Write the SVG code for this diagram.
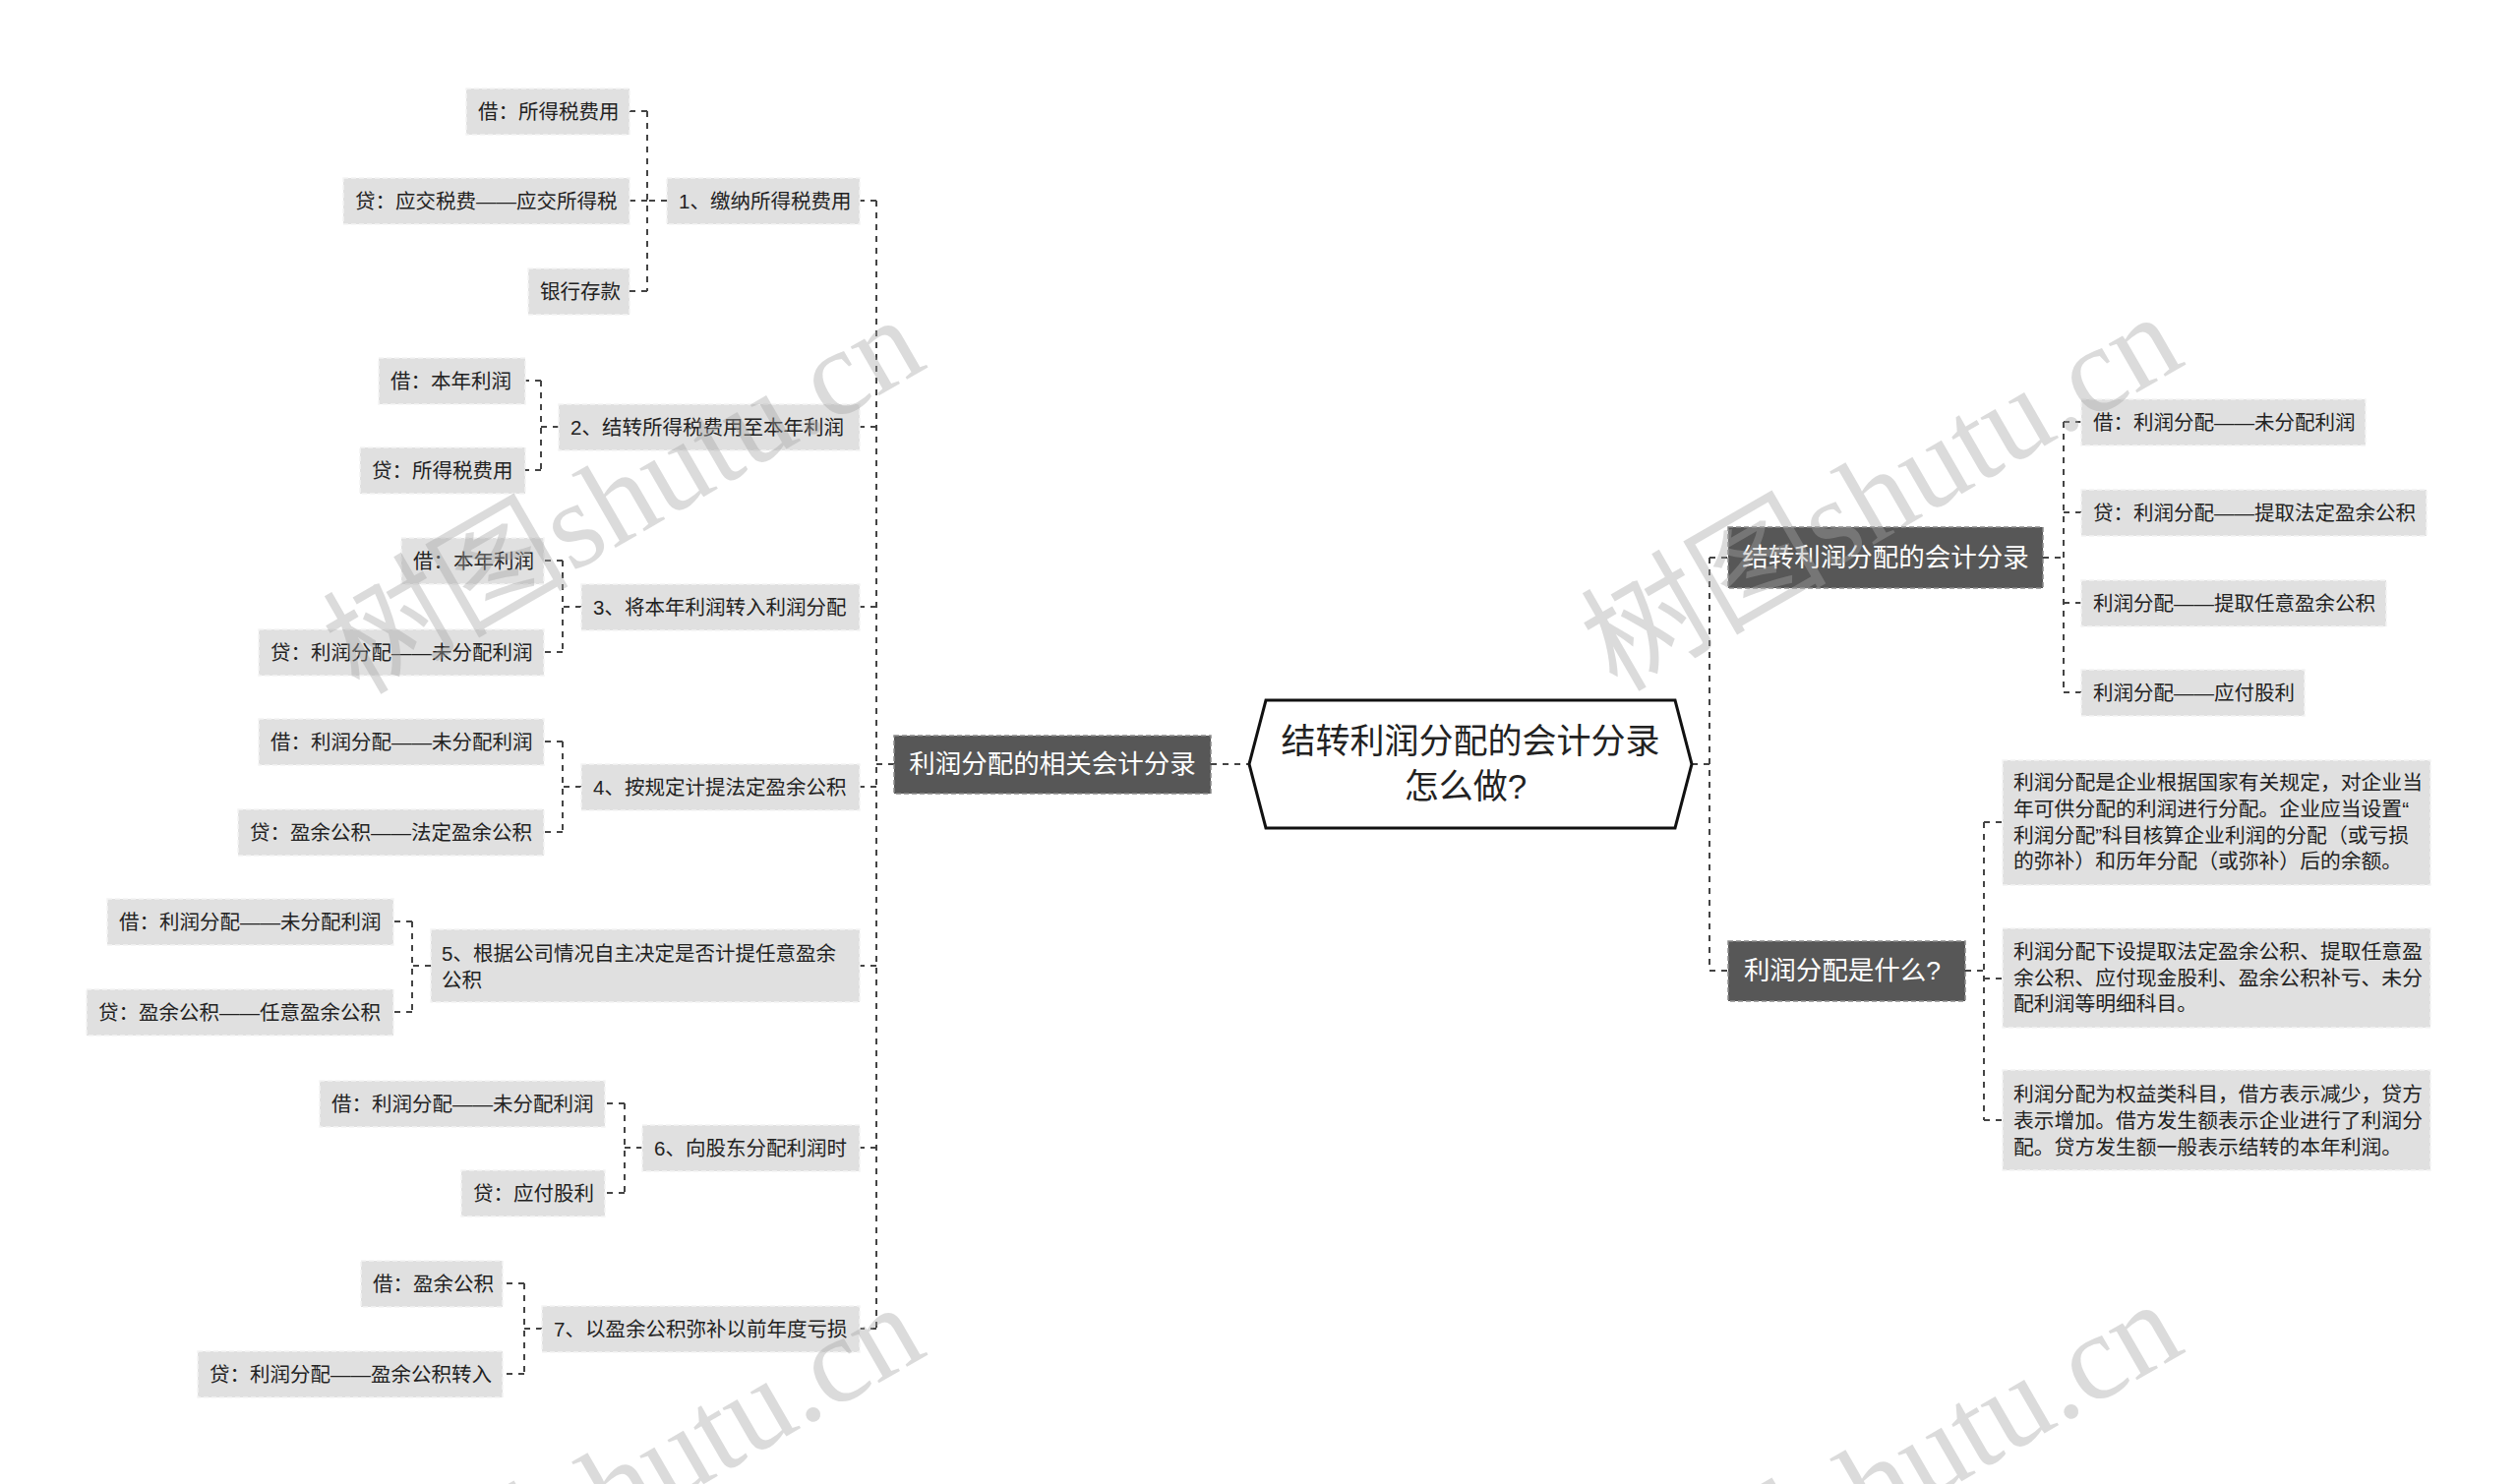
<svg xmlns="http://www.w3.org/2000/svg" width="2560" height="1509" viewBox="0 0 2560 1509">
<style>
text{font-family:"Liberation Sans","Noto Sans CJK SC",sans-serif;}
.b2{fill:#e0e0e0;stroke:#f4f4f4;stroke-width:1.5;stroke-dasharray:5 3;}
.t2{font-size:20.5px;fill:#222;dominant-baseline:central;}
.t3{font-size:20.8px;fill:#222;dominant-baseline:central;}
.b1{fill:#575757;stroke:#8a8a8a;stroke-width:1.5;stroke-dasharray:5 3;}
.t1{font-size:26.5px;fill:#fff;dominant-baseline:central;text-anchor:middle;}
.c{fill:none;stroke:#444;stroke-width:2;stroke-dasharray:6 6;}
.wm{font-family:"Liberation Serif","Noto Sans CJK SC",serif;font-size:125px;fill:#a4a4a4;fill-opacity:0.4;text-anchor:middle;}
</style>
<rect width="2560" height="1509" fill="#fff"/>
<g id="connectors">
<path class="c" d="M1231,777 H1270"/>
<path class="c" d="M909,777 H891"/>
<path class="c" d="M891,204 V1351"/>
<path class="c" d="M891,204 H874 M891,434 H874 M891,617 H874 M891,800 H874 M891,982 H874 M891,1167 H874 M891,1351 H874"/>
<path class="c" d="M678,204 H658 M658,113 V296 M658,113 H640 M658,204 H640 M658,296 H640"/>
<path class="c" d="M568,434 H550 M550,387 V478 M550,387 H534 M550,478 H534"/>
<path class="c" d="M591,617 H572 M572,570 V663 M572,570 H553 M572,663 H553"/>
<path class="c" d="M591,800 H572 M572,754 V846 M572,754 H553 M572,846 H553"/>
<path class="c" d="M438,982 H419 M419,937 V1029 M419,937 H400 M419,1029 H400"/>
<path class="c" d="M653,1167 H635 M635,1122 V1213 M635,1122 H615 M635,1213 H615"/>
<path class="c" d="M551,1351 H533 M533,1305 V1397 M533,1305 H511 M533,1397 H511"/>
<path class="c" d="M1720,777 H1738 M1738,567 V987 M1738,567 H1757 M1738,987 H1757"/>
<path class="c" d="M2077,567 H2098 M2098,429 V704 M2098,429 H2116 M2098,521 H2116 M2098,613 H2116 M2098,704 H2116"/>
<path class="c" d="M1998,987 H2017 M2017,836 V1139 M2017,836 H2036 M2017,995 H2036 M2017,1139 H2036"/>
</g>
<g id="root">
<polygon points="1270,777 1287,712 1703,712 1720,777 1703,842 1287,842" fill="#fff" stroke="#111" stroke-width="3"/>
<text x="1495" y="753" font-size="35" fill="#222" text-anchor="middle" dominant-baseline="central">结转利润分配的会计分录</text>
<text x="1490" y="799" font-size="35" fill="#222" text-anchor="middle" dominant-baseline="central">怎么做?</text>
</g>
<g id="left-main">
<rect class="b1" x="909" y="748" width="322" height="59"/>
<text class="t1" x="1070" y="777">利润分配的相关会计分录</text>
</g>
<g id="n1"><rect class="b2" x="678" y="181" width="196" height="47"/><text class="t2" x="690" y="204">1、缴纳所得税费用</text></g>
<g id="n1a"><rect class="b2" x="474" y="90" width="166" height="47"/><text class="t2" x="486" y="113">借：所得税费用</text></g>
<g id="n1b"><rect class="b2" x="349" y="181" width="291" height="47"/><text class="t2" x="361" y="204">贷：应交税费——应交所得税</text></g>
<g id="n1c"><rect class="b2" x="537" y="273" width="103" height="47"/><text class="t2" x="549" y="296">银行存款</text></g>
<g id="n2"><rect class="b2" x="568" y="411" width="306" height="47"/><text class="t2" x="580" y="434">2、结转所得税费用至本年利润</text></g>
<g id="n2a"><rect class="b2" x="385" y="364" width="149" height="47"/><text class="t2" x="397" y="387">借：本年利润</text></g>
<g id="n2b"><rect class="b2" x="366" y="455" width="168" height="47"/><text class="t2" x="378" y="478">贷：所得税费用</text></g>
<g id="n3"><rect class="b2" x="591" y="594" width="283" height="47"/><text class="t2" x="603" y="617">3、将本年利润转入利润分配</text></g>
<g id="n3a"><rect class="b2" x="408" y="547" width="145" height="47"/><text class="t2" x="420" y="570">借：本年利润</text></g>
<g id="n3b"><rect class="b2" x="263" y="640" width="290" height="47"/><text class="t2" x="275" y="663">贷：利润分配——未分配利润</text></g>
<g id="n4"><rect class="b2" x="591" y="777" width="283" height="47"/><text class="t2" x="603" y="800">4、按规定计提法定盈余公积</text></g>
<g id="n4a"><rect class="b2" x="263" y="731" width="290" height="47"/><text class="t2" x="275" y="754">借：利润分配——未分配利润</text></g>
<g id="n4b"><rect class="b2" x="242" y="823" width="311" height="47"/><text class="t2" x="254" y="846">贷：盈余公积——法定盈余公积</text></g>
<g id="n5"><rect class="b2" x="438" y="945" width="436" height="74"/><text class="t2" x="449" y="969">5、根据公司情况自主决定是否计提任意盈余</text><text class="t2" x="449" y="996">公积</text></g>
<g id="n5a"><rect class="b2" x="109" y="914" width="291" height="47"/><text class="t2" x="121" y="937">借：利润分配——未分配利润</text></g>
<g id="n5b"><rect class="b2" x="88" y="1006" width="312" height="47"/><text class="t2" x="100" y="1029">贷：盈余公积——任意盈余公积</text></g>
<g id="n6"><rect class="b2" x="653" y="1144" width="221" height="47"/><text class="t2" x="665" y="1167">6、向股东分配利润时</text></g>
<g id="n6a"><rect class="b2" x="325" y="1099" width="290" height="47"/><text class="t2" x="337" y="1122">借：利润分配——未分配利润</text></g>
<g id="n6b"><rect class="b2" x="469" y="1190" width="146" height="47"/><text class="t2" x="481" y="1213">贷：应付股利</text></g>
<g id="n7"><rect class="b2" x="551" y="1328" width="323" height="47"/><text class="t2" x="563" y="1351">7、以盈余公积弥补以前年度亏损</text></g>
<g id="n7a"><rect class="b2" x="367" y="1282" width="144" height="47"/><text class="t2" x="379" y="1305">借：盈余公积</text></g>
<g id="n7b"><rect class="b2" x="201" y="1374" width="310" height="47"/><text class="t2" x="213" y="1397">贷：利润分配——盈余公积转入</text></g>
<g id="r1">
<rect class="b1" x="1757" y="536" width="320" height="62"/>
<text class="t1" x="1917" y="567">结转利润分配的会计分录</text>
</g>
<g id="r2">
<rect class="b1" x="1757" y="957" width="241" height="61"/>
<text class="t1" x="1873" y="987">利润分配是什么?</text>
</g>
<g id="r1a"><rect class="b2" x="2116" y="406" width="289" height="47"/><text class="t2" x="2128" y="429">借：利润分配——未分配利润</text></g>
<g id="r1b"><rect class="b2" x="2116" y="498" width="351" height="47"/><text class="t2" x="2128" y="521">贷：利润分配——提取法定盈余公积</text></g>
<g id="r1c"><rect class="b2" x="2116" y="590" width="310" height="47"/><text class="t2" x="2128" y="613">利润分配——提取任意盈余公积</text></g>
<g id="r1d"><rect class="b2" x="2116" y="681" width="227" height="47"/><text class="t2" x="2128" y="704">利润分配——应付股利</text></g>
<g id="r2a"><rect class="b2" x="2036" y="773" width="435" height="127"/>
<text class="t3" x="2047" y="795">利润分配是企业根据国家有关规定，对企业当</text>
<text class="t3" x="2047" y="822">年可供分配的利润进行分配。企业应当设置“</text>
<text class="t3" x="2047" y="849">利润分配”科目核算企业利润的分配（或亏损</text>
<text class="t3" x="2047" y="875">的弥补）和历年分配（或弥补）后的余额。</text>
</g>
<g id="r2b"><rect class="b2" x="2036" y="944" width="435" height="101"/>
<text class="t3" x="2047" y="967">利润分配下设提取法定盈余公积、提取任意盈</text>
<text class="t3" x="2047" y="994">余公积、应付现金股利、盈余公积补亏、未分</text>
<text class="t3" x="2047" y="1020">配利润等明细科目。</text>
</g>
<g id="r2c"><rect class="b2" x="2036" y="1088" width="435" height="102"/>
<text class="t3" x="2047" y="1112">利润分配为权益类科目，借方表示减少，贷方</text>
<text class="t3" x="2047" y="1139">表示增加。借方发生额表示企业进行了利润分</text>
<text class="t3" x="2047" y="1166">配。贷方发生额一般表示结转的本年利润。</text>
</g>
<g id="watermarks">
<text class="wm" transform="translate(655,540) rotate(-30)">树图shutu.cn</text>
<text class="wm" transform="translate(1934,537) rotate(-30)">树图shutu.cn</text>
<text class="wm" transform="translate(655,1544) rotate(-30)">树图shutu.cn</text>
<text class="wm" transform="translate(1934,1541) rotate(-30)">树图shutu.cn</text>
</g>
</svg>
